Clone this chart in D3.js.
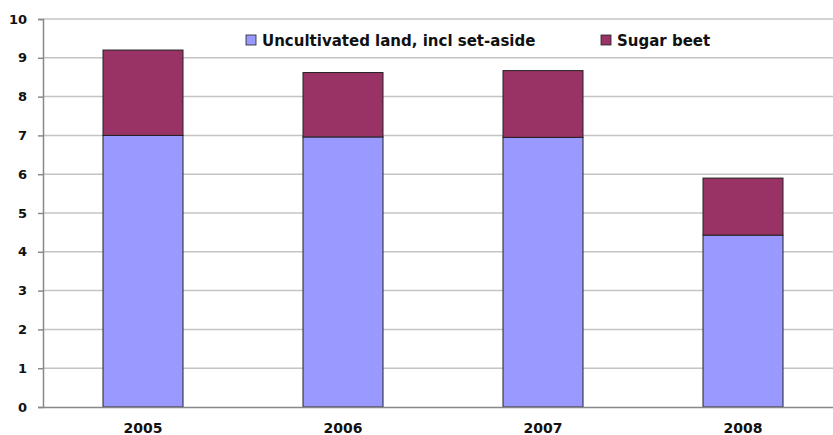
<!DOCTYPE html>
<html><head><meta charset="utf-8">
<script src="https://cdn.jsdelivr.net/npm/d3@7"></script>
<style>body{margin:0;background:#fff;} svg{display:block;font-family:"DejaVu Sans",sans-serif;font-weight:bold;}</style>
</head><body><svg id="c" width="833" height="435"></svg>
<script>
const years = ["2005","2006","2007","2008"];
const uncultivated = [7.0, 6.96, 6.95, 4.43];
const sugarBeet = [2.2, 1.66, 1.72, 1.47];
const seriesNames = ["Uncultivated land, incl set-aside","Sugar beet"];
const colors = ["#9999ff","#993366"];
const yTicks = [0,1,2,3,4,5,6,7,8,9,10];

(function(){
const svg = d3.select("#c");
const mLeft = 43, mRight = 843, mTop = 19, mBottom = 407;
const FONT = "DejaVu Sans, sans-serif";
const x = d3.scaleBand().domain(years).range([mLeft, mRight]).paddingInner(0.6).paddingOuter(0.3);
const y = d3.scaleLinear().domain([0,10]).range([mBottom, mTop]);

// gridlines
svg.append("g").selectAll("line").data(yTicks.filter(d=>d>0)).join("line")
  .attr("x1", mLeft).attr("x2", 833).attr("y1", d=>y(d)).attr("y2", d=>y(d))
  .attr("stroke", "#c4c4c4").attr("stroke-width", 1.5);

const data = years.map((yr,i)=>({yr, a:uncultivated[i], b:sugarBeet[i]}));
const stack = d3.stack().keys(["a","b"])(data);
svg.append("g").selectAll("g").data(stack).join("g")
  .attr("fill", (d,i)=>colors[i])
  .selectAll("rect").data(d=>d).join("rect")
  .attr("x", d=>x(d.data.yr)).attr("width", x.bandwidth())
  .attr("y", d=>y(d[1])).attr("height", d=>y(d[0])-y(d[1]))
  .attr("stroke", "#222").attr("stroke-width", 1);

// y axis
const ya = svg.append("g").attr("transform", `translate(${mLeft},0)`)
  .call(d3.axisLeft(y).tickValues(yTicks).tickSize(5).tickPadding(11));
ya.attr("font-family", FONT);
ya.select(".domain").attr("stroke", "#888").attr("stroke-width", 1.5);
ya.selectAll(".tick line").attr("stroke", "#888").attr("stroke-width", 1.5);
ya.selectAll("text").attr("font-size", 13).attr("font-weight", "bold").attr("fill", "#111");

// x axis
const xa = svg.append("g").attr("transform", `translate(0,${mBottom})`)
  .call(d3.axisBottom(x).tickSize(0).tickPadding(16));
xa.attr("font-family", FONT);
xa.select(".domain").attr("stroke", "#888").attr("stroke-width", 1.5);
xa.selectAll("text").attr("font-size", 14).attr("font-weight", "bold").attr("fill", "#111");

// legend
const legendX = [246, 601];
const lg = svg.append("g").selectAll("g").data(seriesNames).join("g")
  .attr("transform", (d,i)=>`translate(${legendX[i]},35)`);
lg.append("rect").attr("width", 10).attr("height", 10).attr("fill", (d,i)=>colors[i]).attr("stroke", "#222").attr("stroke-width", 0.8);
lg.append("text").attr("x", 16).attr("y", 11).attr("font-size", 15).attr("font-family", FONT).attr("fill", "#111").text(d=>d);
})();
</script></body></html>
